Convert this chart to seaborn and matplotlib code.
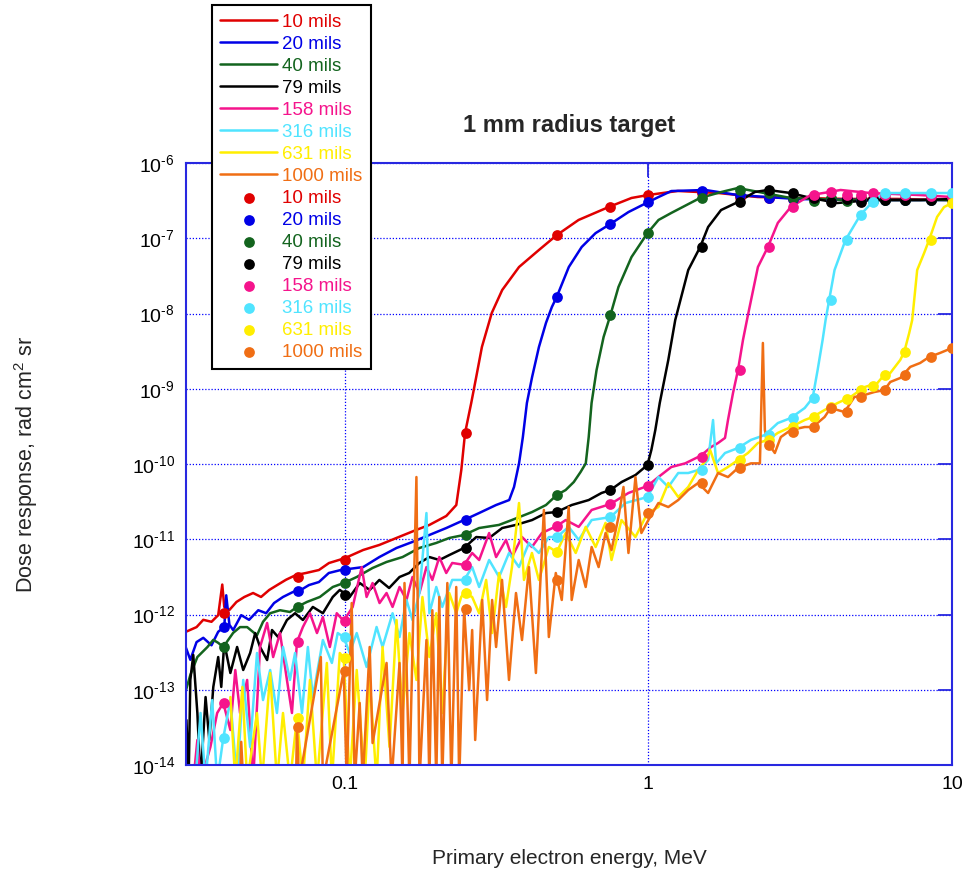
import numpy as np
import pandas as pd
import matplotlib
matplotlib.use("Agg")
import matplotlib.pyplot as plt
import matplotlib.ticker as mticker
import seaborn as sns

nan = np.nan

# ---------------- Monte Carlo dose response curves ----------------
# energy in MeV, dose response in rad cm^2 sr
red_e = [0.030, 0.0325, 0.0342, 0.0364, 0.0383, 0.0395, 0.0401, 0.0417, 0.0440, 0.0467,
         0.0499, 0.0530, 0.0564, 0.0603, 0.0641, 0.0691, 0.0745, 0.0822, 0.0887, 0.100,
         0.115, 0.130, 0.148, 0.172, 0.190, 0.216, 0.233, 0.242, 0.249, 0.261,
         0.271, 0.283, 0.305, 0.330, 0.375, 0.436, 0.499, 0.589, 0.740, 0.880,
         1.0, 1.25, 1.70, 2.29, 3.10, 4.53, 6.60, 10.0]
red_d = [5.9e-13, 6.8e-13, 8.5e-13, 8.0e-13, 9.8e-13, 2.5e-12, 1.26e-12, 1.15e-12, 1.47e-12, 1.71e-12,
         1.93e-12, 1.71e-12, 2.12e-12, 2.5e-12, 2.9e-12, 3.35e-12, 3.56e-12, 3.9e-12, 4.83e-12, 5.6e-12,
         7.2e-12, 8.4e-12, 1.04e-11, 1.33e-11, 1.55e-11, 2.04e-11, 2.85e-11, 8.3e-11, 2.58e-10, 6.5e-10,
         1.43e-9, 3.6e-9, 1.02e-8, 2.05e-8, 4.15e-8, 6.98e-8, 1.10e-7, 1.75e-7, 2.6e-7, 3.43e-7,
         3.76e-7, 4.25e-7, 3.99e-7, 3.53e-7, 3.43e-7, 3.33e-7, 3.33e-7, 3.22e-7]

blue_e = [0.030, 0.0310, 0.0325, 0.0342, 0.0364, 0.0383, 0.0401, 0.0407, 0.0417, 0.0429,
          0.0456, 0.0484, 0.0519, 0.0551, 0.0585, 0.0626, 0.0675, 0.0717, 0.0762, 0.0822,
          0.0886, 0.0970, 0.115, 0.130, 0.148, 0.167, 0.190, 0.216, 0.247, 0.277,
          0.315, 0.348, 0.361, 0.375, 0.386, 0.398, 0.414, 0.436, 0.460, 0.481,
          0.499, 0.547, 0.603, 0.670, 0.750, 0.860, 1.0, 1.08, 1.19, 1.54,
          1.97, 3.10, 5.27, 10.0]
blue_d = [3.6e-13, 2.5e-13, 4.3e-13, 4.9e-13, 3.9e-13, 5.9e-13, 6.8e-13, 1.8e-12, 7.3e-13, 6.2e-13,
          9.8e-13, 8.5e-13, 1.14e-12, 1.04e-12, 1.42e-12, 1.71e-12, 1.99e-12, 2.12e-12, 2.46e-12, 2.7e-12,
          3.56e-12, 3.9e-12, 4.27e-12, 5.8e-12, 7.65e-12, 9.2e-12, 1.14e-11, 1.41e-11, 1.8e-11, 2.23e-11,
          2.85e-11, 3.32e-11, 4.95e-11, 1.02e-10, 2.28e-10, 6.46e-10, 1.43e-9, 3.58e-9, 7.5e-9, 1.22e-8,
          1.66e-8, 4.15e-8, 7.65e-8, 1.17e-7, 1.55e-7, 2.23e-7, 3.03e-7, 3.53e-7, 4.24e-7, 4.38e-7,
          3.75e-7, 3.32e-7, 3.22e-7, 3.22e-7]

green_e = [0.030, 0.0310, 0.0327, 0.0353, 0.0369, 0.0383, 0.0398, 0.0429, 0.0452, 0.0477,
           0.0514, 0.0538, 0.0568, 0.0612, 0.0660, 0.0696, 0.0751, 0.0828, 0.0913, 0.0992,
           0.1095, 0.1235, 0.1373, 0.155, 0.176, 0.200, 0.221, 0.247, 0.277, 0.322,
           0.355, 0.414, 0.460, 0.499, 0.534, 0.568, 0.598, 0.622, 0.636, 0.650,
           0.675, 0.712, 0.750, 0.797, 0.880, 0.993, 1.08, 1.19, 1.48, 1.74,
           1.97, 2.94, 4.52, 10.0]
green_d = [9.9e-14, 1.57e-13, 2.72e-13, 3.7e-13, 4.6e-13, 4.2e-13, 3.7e-13, 5.7e-13, 6.8e-13, 6.8e-13,
           5.3e-13, 8.0e-13, 1.04e-12, 1.14e-12, 1.08e-12, 1.26e-12, 1.47e-12, 1.71e-12, 2.32e-12, 2.62e-12,
           3.15e-12, 4.15e-12, 4.99e-12, 5.8e-12, 7.65e-12, 8.92e-12, 1.04e-11, 1.14e-11, 1.41e-11, 1.55e-11,
           1.80e-11, 2.30e-11, 2.85e-11, 3.87e-11, 4.51e-11, 5.76e-11, 7.83e-11, 1.02e-10, 2.28e-10, 6.46e-10,
           1.77e-9, 4.87e-9, 9.55e-9, 2.25e-8, 5.63e-8, 1.17e-7, 1.75e-7, 2.17e-7, 3.43e-7, 4.12e-7,
           4.65e-7, 3.43e-7, 3.22e-7, 3.22e-7]

black_e = [0.0301, 0.0306, 0.0310, 0.0317, 0.0327, 0.0335, 0.0348, 0.0358, 0.0369, 0.0383,
           0.0392, 0.0401, 0.0420, 0.0442, 0.0463, 0.0488, 0.0507, 0.0526, 0.0555, 0.0576,
           0.0603, 0.0645, 0.0686, 0.0728, 0.0785, 0.0847, 0.0913, 0.0963, 0.1038, 0.112,
           0.1208, 0.130, 0.140, 0.1515, 0.163, 0.176, 0.190, 0.205, 0.221, 0.247,
           0.271, 0.299, 0.330, 0.366, 0.414, 0.460, 0.499, 0.559, 0.636, 0.701,
           0.750, 0.816, 0.907, 0.993, 1.023, 1.054, 1.09, 1.163, 1.226, 1.353,
           1.481, 1.573, 1.735, 1.973, 2.243, 2.475, 2.944, 3.423, 4.198, 5.385,
           7.855, 10.0]
black_d = [3.96e-14, 6e-15, 1.35e-13, 2.9e-13, 4.91e-14, 6e-15, 8.0e-14, 2.15e-14, 1.09e-13, 2.72e-13,
           1.09e-13, 4.18e-13, 1.67e-13, 3.7e-13, 1.83e-13, 3.08e-13, 5.67e-13, 3.7e-13, 2.48e-13, 6.22e-13,
           5.02e-13, 8.45e-13, 1.04e-12, 8.45e-13, 1.26e-12, 1.04e-12, 1.71e-12, 2.12e-12, 1.71e-12, 2.62e-12,
           2.12e-12, 2.88e-12, 2.25e-12, 3.15e-12, 3.56e-12, 4.84e-12, 5.8e-12, 5.3e-12, 6.17e-12, 7.65e-12,
           1.07e-11, 1.04e-11, 1.41e-11, 1.55e-11, 1.80e-11, 2.23e-11, 2.30e-11, 2.85e-11, 3.32e-11, 4.12e-11,
           4.51e-11, 5.76e-11, 7.14e-11, 9.70e-11, 1.54e-10, 2.83e-10, 6.46e-10, 2.41e-9, 8.2e-9, 3.78e-8,
           7.65e-8, 1.41e-7, 2.37e-7, 3.03e-7, 4.12e-7, 4.38e-7, 3.99e-7, 3.43e-7, 2.94e-7, 3.22e-7,
           3.22e-7, 3.32e-7]

pink_e = [0.0317, 0.0327, 0.0335, 0.0361, 0.0380, 0.0398, 0.0420, 0.0436, 0.0452, 0.0477,
          0.0499, 0.0526, 0.0555, 0.0581, 0.0612, 0.0645, 0.0670, 0.0696, 0.0728, 0.0768,
          0.0810, 0.0847, 0.0893, 0.0941, 0.0992, 0.1062, 0.1137, 0.1180, 0.1235, 0.1302,
          0.1373, 0.1437, 0.1515, 0.1597, 0.1671, 0.1762, 0.1858, 0.1943, 0.2048, 0.2159,
          0.2259, 0.2473, 0.2628, 0.2771, 0.2989, 0.3151, 0.3397, 0.3554, 0.3835, 0.4135,
          0.4459, 0.4993, 0.5343, 0.5895, 0.6503, 0.7504, 0.8598, 0.9925, 1.079, 1.190,
          1.322, 1.459, 1.538, 1.609, 1.696, 1.788, 1.829, 1.900, 1.973, 2.049,
          2.128, 2.295, 2.475, 2.669, 2.944, 3.423, 3.952, 4.294, 5.385, 7.855,
          10.0]
pink_d = [6e-15, 2.15e-14, 6e-15, 1.74e-14, 4.91e-14, 6.67e-14, 2.92e-14, 1.83e-13, 4.91e-14, 1.35e-13,
          6e-15, 3.7e-13, 7.71e-13, 2.72e-13, 5.67e-13, 1.35e-13, 4.91e-14, 4.31e-13, 6.82e-13, 1.04e-12,
          5.67e-13, 9.26e-13, 3.7e-13, 1.04e-12, 8.2e-13, 1.26e-12, 4.27e-12, 1.71e-12, 2.62e-12, 1.42e-12,
          1.93e-12, 1.26e-12, 2.32e-12, 1.56e-12, 3.15e-12, 1.93e-12, 4.27e-12, 2.88e-12, 5.8e-12, 3.56e-12,
          4.84e-12, 4.57e-12, 6.57e-12, 5.3e-12, 1.21e-11, 5.8e-12, 9.8e-12, 5.8e-12, 1.07e-11, 7.89e-12,
          1.21e-11, 1.50e-11, 1.80e-11, 1.46e-11, 2.45e-11, 2.94e-11, 4.12e-11, 5.1e-11, 6.71e-11, 9.12e-11,
          1.02e-10, 1.24e-10, 1.44e-10, 1.68e-10, 1.9e-10, 2.22e-10, 3.84e-10, 8.78e-10, 1.77e-9, 4.44e-9,
          9.55e-9, 4.15e-8, 7.65e-8, 1.6e-7, 2.6e-7, 3.75e-7, 4.12e-7, 4.38e-7, 3.99e-7, 3.75e-7,
          3.53e-7]

cyan_e = [0.0322, 0.0335, 0.0348, 0.0366, 0.0380, 0.0398, 0.0420, 0.0442, 0.0463, 0.0488,
          0.0514, 0.0538, 0.0568, 0.0598, 0.0626, 0.0660, 0.0686, 0.0723, 0.0756, 0.0785,
          0.0847, 0.0907, 0.0948, 0.0992, 0.1038, 0.1095, 0.1180, 0.1273, 0.1332, 0.1437,
          0.1515, 0.1597, 0.1671, 0.1762, 0.1858, 0.1900, 0.2002, 0.2095, 0.2259, 0.2473,
          0.2628, 0.2771, 0.2989, 0.3224, 0.3475, 0.3749, 0.4042, 0.4359, 0.4701, 0.4993,
          0.5465, 0.5895, 0.6503, 0.7504, 0.8407, 0.9925, 1.079, 1.163, 1.254, 1.353,
          1.459, 1.573, 1.633, 1.671, 1.788, 1.973, 2.177, 2.419, 2.669, 2.944,
          3.273, 3.475, 3.609, 3.748, 3.834, 4.103, 4.460, 4.992, 5.467, 5.984,
          6.960, 8.472, 10.0]
cyan_d = [6e-15, 4.91e-14, 6e-15, 7.3e-14, 6e-15, 2.28e-14, 7.3e-14, 6e-15, 1.35e-13, 1.74e-14,
          3.08e-13, 7.3e-14, 1.83e-13, 4.91e-14, 3.7e-13, 1.35e-13, 3.08e-13, 4.91e-14, 3.7e-13, 8.0e-14,
          4.58e-13, 2.27e-13, 5.67e-13, 5.02e-13, 3.08e-13, 5.67e-13, 2.01e-13, 6.82e-13, 3.7e-13, 1.04e-12,
          5.02e-13, 1.56e-12, 8.45e-13, 1.93e-12, 2.23e-11, 1.04e-12, 2.32e-12, 1.26e-12, 2.88e-12, 2.88e-12,
          4.27e-12, 2.32e-12, 5.3e-12, 3.15e-12, 6.57e-12, 4.27e-12, 8.92e-12, 6.57e-12, 1.07e-11, 1.07e-11,
          1.46e-11, 9.8e-12, 1.80e-11, 1.97e-11, 3.03e-11, 3.64e-11, 6.71e-11, 4.95e-11, 7.59e-11, 7.59e-11,
          8.32e-11, 1.13e-10, 3.84e-10, 1.02e-10, 1.40e-10, 1.63e-10, 2.09e-10, 2.43e-10, 3.5e-10, 4.08e-10,
          5.55e-10, 7.53e-10, 1.77e-9, 4.44e-9, 8.2e-9, 3.78e-8, 9.5e-8, 2.04e-7, 3.03e-7, 3.99e-7,
          3.99e-7, 3.99e-7, 3.99e-7]

yellow_e = [0.0420, 0.0436, 0.0460, 0.0477, 0.0514, 0.0534, 0.0568, 0.0598, 0.0626, 0.0660,
            0.0696, 0.0728, 0.0768, 0.0810, 0.0873, 0.0907, 0.0963, 0.0992, 0.1038, 0.1095,
            0.1163, 0.1208, 0.1273, 0.1332, 0.1404, 0.1481, 0.1550, 0.1633, 0.1722, 0.1802,
            0.1900, 0.2002, 0.2095, 0.2209, 0.2329, 0.2418, 0.2473, 0.2628, 0.2771, 0.2922,
            0.3057, 0.3224, 0.3397, 0.3554, 0.3749, 0.3893, 0.4135, 0.4359, 0.4701, 0.4993,
            0.5343, 0.5763, 0.6216, 0.6703, 0.7227, 0.7561, 0.8155, 0.9066, 0.9925, 1.079,
            1.163, 1.254, 1.353, 1.459, 1.550, 1.597, 1.696, 1.829, 1.973, 2.128,
            2.295, 2.475, 2.669, 2.944, 3.273, 3.475, 3.805, 4.198, 4.631, 5.146,
            5.677, 5.984, 6.262, 6.753, 6.960, 7.228, 7.395, 7.679, 8.096, 8.407,
            8.929, 9.415, 10.0]
yellow_d = [8.0e-14, 6e-15, 1.09e-13, 6e-15, 4.91e-14, 6e-15, 1.67e-13, 6e-15, 4.91e-14, 6e-15,
            4.21e-14, 6e-15, 1.35e-13, 6e-15, 2.27e-13, 6e-15, 3.08e-13, 2.64e-13, 6e-15, 1.83e-13,
            6e-15, 1.35e-13, 6e-15, 3.7e-13, 1.74e-14, 8.45e-13, 4.91e-14, 5.67e-13, 1.35e-13, 1.71e-12,
            2.72e-13, 1.04e-12, 4.91e-14, 1.93e-12, 1.04e-12, 1.71e-12, 1.93e-12, 1.71e-12, 1.04e-12, 2.88e-12,
            5.67e-13, 3.56e-12, 1.26e-12, 4.27e-12, 3.03e-11, 2.88e-12, 6.57e-12, 2.88e-12, 7.89e-12, 6.77e-12,
            1.21e-11, 6.57e-12, 1.46e-11, 7.89e-12, 1.65e-11, 5.3e-12, 1.80e-11, 1.07e-11, 2.23e-11, 2.68e-11,
            5.59e-11, 3.64e-11, 4.95e-11, 8.32e-11, 1.13e-10, 1.54e-10, 7.59e-11, 9.12e-11, 1.13e-10, 1.40e-10,
            1.9e-10, 2.09e-10, 2.59e-10, 3.1e-10, 3.84e-10, 4.21e-10, 5.22e-10, 6.46e-10, 7.77e-10, 1.05e-9,
            1.19e-9, 1.53e-9, 1.62e-9, 2.41e-9, 3.08e-9, 5.5e-9, 8.2e-9, 3.78e-8, 6.37e-8, 9.5e-8,
            1.92e-7, 2.6e-7, 2.94e-7]

orange_e = [0.0452, 0.0456, 0.0463, 0.0691, 0.0696, 0.0707, 0.0834, 0.0847, 0.0992, 0.1015,
            0.1054, 0.1078, 0.1120, 0.1146, 0.1208, 0.1235, 0.1373, 0.1426, 0.1515, 0.1550,
            0.1573, 0.1633, 0.1722, 0.1762, 0.1858, 0.1900, 0.1943, 0.2002, 0.2048, 0.2095,
            0.2177, 0.2244, 0.2329, 0.2382, 0.2473, 0.2569, 0.2628, 0.2689, 0.2835, 0.2943,
            0.3057, 0.3151, 0.3296, 0.3475, 0.3664, 0.3835, 0.4042, 0.4261, 0.4527, 0.4701,
            0.4955, 0.5185, 0.5465, 0.5590, 0.5895, 0.6216, 0.6503, 0.6857, 0.7227, 0.7561,
            0.7973, 0.8279, 0.8598, 0.9066, 0.9484, 1.0, 1.079, 1.163, 1.254, 1.353,
            1.459, 1.573, 1.696, 1.829, 1.973, 2.177, 2.330, 2.383, 2.419, 2.475,
            2.609, 2.730, 2.944, 3.273, 3.475, 3.805, 3.981, 4.426, 4.772, 5.146,
            5.550, 5.984, 6.262, 6.753, 7.284, 7.855, 8.407, 9.134, 10.0]
orange_d = [6e-15, 2.03e-14, 6e-15, 6e-15, 3.19e-14, 6e-15, 2.72e-13, 6e-15, 1.77e-13, 6e-15,
            1.42e-12, 6e-15, 6.67e-14, 6e-15, 3.7e-13, 1.96e-14, 2.27e-13, 6e-15, 2.27e-13, 6e-15,
            2.62e-12, 6e-15, 6.71e-11, 6e-15, 4.58e-13, 6e-15, 1.14e-12, 6e-15, 1.71e-12, 6e-15,
            2.62e-12, 6e-15, 2.32e-12, 6e-15, 1.18e-12, 9.9e-14, 6.22e-13, 2.15e-14, 1.56e-12, 7.3e-14,
            1.56e-12, 3.7e-13, 2.88e-12, 1.35e-13, 1.93e-12, 4.58e-13, 4.27e-12, 1.67e-13, 2.45e-11, 5.02e-13,
            3.56e-12, 1.56e-12, 2.68e-11, 1.56e-12, 5.3e-12, 2.32e-12, 7.89e-12, 4.27e-12, 1.21e-11, 7.19e-12,
            1.98e-11, 4.95e-11, 6.57e-12, 6.71e-11, 1.21e-11, 1.80e-11, 3.03e-11, 2.68e-11, 3.32e-11, 4.51e-11,
            5.59e-11, 4.12e-11, 7.59e-11, 6.71e-11, 8.85e-11, 1.02e-10, 1.02e-10, 4.06e-9, 2.83e-10, 1.9e-10,
            1.40e-10, 2.28e-10, 2.83e-10, 3.1e-10, 3.1e-10, 4.21e-10, 5.55e-10, 4.91e-10, 7.77e-10, 8.26e-10,
            9.05e-10, 9.6e-10, 1.23e-9, 1.39e-9, 1.95e-9, 2.2e-9, 2.64e-9, 2.99e-9, 3.48e-9]

# ---------------- deterministic points (dots) ----------------
mark_e = [0.04, 0.07, 0.1, 0.25, 0.5, 0.75, 1.0, 1.5, 2.0, 2.5,
          3.0, 3.5, 4.0, 4.5, 5.0, 5.5, 6.0, 7.0, 8.5, 10.0]
red_m = [1.04e-12, 3.15e-12, 5.3e-12, 2.59e-10, 1.10e-7, 2.6e-7, 3.75e-7, 3.99e-7, 3.53e-7, 3.4e-7,
         3.3e-7, 3.3e-7, 3.3e-7, 3.3e-7, 3.3e-7, 3.3e-7, 3.3e-7, 3.3e-7, 3.3e-7, 3.2e-7]
blue_m = [6.82e-13, 2.05e-12, 3.9e-12, 1.80e-11, 1.66e-8, 1.55e-7, 3.03e-7, 4.24e-7, 3.75e-7, 3.4e-7,
          3.3e-7, 3.3e-7, 3.3e-7, 3.3e-7, 3.2e-7, 3.2e-7, 3.2e-7, 3.2e-7, 3.2e-7, 3.2e-7]
green_m = [3.7e-13, 1.26e-12, 2.62e-12, 1.14e-11, 3.87e-11, 9.55e-9, 1.17e-7, 3.43e-7, 4.38e-7, 3.99e-7,
           3.43e-7, 3.1e-7, 3.4e-7, 3.1e-7, 3.4e-7, 3.1e-7, 3.2e-7, 3.2e-7, 3.2e-7, 3.2e-7]
black_m = [nan, nan, 1.82e-12, 7.65e-12, 2.30e-11, 4.51e-11, 9.7e-11, 7.65e-8, 3.03e-7, 4.38e-7,
           3.99e-7, 3.43e-7, 3.0e-7, 3.3e-7, 3.0e-7, 3.3e-7, 3.2e-7, 3.2e-7, 3.2e-7, 3.3e-7]
pink_m = [6.67e-14, 4.31e-13, 8.2e-13, 4.57e-12, 1.50e-11, 2.94e-11, 5.1e-11, 1.24e-10, 1.77e-9, 7.65e-8,
          2.6e-7, 3.75e-7, 4.12e-7, 3.75e-7, 3.75e-7, 3.99e-7, 3.75e-7, 3.75e-7, 3.6e-7, 3.53e-7]
cyan_m = [2.28e-14, nan, 5.02e-13, 2.88e-12, 1.07e-11, 1.98e-11, 3.64e-11, 8.32e-11, 1.63e-10, 2.43e-10,
          4.08e-10, 7.53e-10, 1.52e-8, 9.5e-8, 2.04e-7, 3.03e-7, 3.99e-7, 3.99e-7, 3.99e-7, 3.99e-7]
yellow_m = [nan, 4.21e-14, 2.64e-13, 1.93e-12, 6.77e-12, nan, nan, nan, 1.13e-10, 2.09e-10,
            3.1e-10, 4.21e-10, 5.8e-10, 7.2e-10, 9.6e-10, 1.1e-9, 1.53e-9, 3.08e-9, 9.5e-8, 2.94e-7]
orange_m = [nan, 3.19e-14, 1.77e-13, 1.18e-12, 2.88e-12, 1.46e-11, 2.23e-11, 5.59e-11, 8.85e-11, 1.8e-10,
            2.7e-10, 3.1e-10, 5.55e-10, 4.91e-10, 7.77e-10, nan, 9.6e-10, 1.5e-9, 2.64e-9, 3.48e-9]

labels = ["10 mils", "20 mils", "40 mils", "79 mils", "158 mils", "316 mils", "631 mils", "1000 mils"]
colors = ["#e00000", "#0000e6", "#13641e", "#000000", "#f5148c", "#50e4ff", "#ffee00", "#f06e14"]
curves = [(red_e, red_d), (blue_e, blue_d), (green_e, green_d), (black_e, black_d),
          (pink_e, pink_d), (cyan_e, cyan_d), (yellow_e, yellow_d), (orange_e, orange_d)]
points = [red_m, blue_m, green_m, black_m, pink_m, cyan_m, yellow_m, orange_m]

axis_blue = "#2828e0"

sns.set_style("white")
plt.rcParams["font.family"] = ["Liberation Sans", "DejaVu Sans"]
plt.rcParams["mathtext.fontset"] = "custom"
plt.rcParams["mathtext.rm"] = "Liberation Sans"
plt.rcParams["mathtext.it"] = "Liberation Sans:italic"
plt.rcParams["mathtext.bf"] = "Liberation Sans:bold"


def decade_label(v, pos):
    # "10" with a short-hyphen exponent, e.g. 10^-6
    n = int(round(np.log10(v)))
    sign = "\u2010" if n < 0 else ""
    return f"10$^{{{sign}{abs(n)}}}$"


fig = plt.figure(figsize=(9.69, 8.73), dpi=100)
ax = fig.add_axes([186 / 969, 1 - 765 / 873, 766 / 969, 602 / 873])
ax.set_xscale("log")
ax.set_yscale("log")

for lbl, col, (e, d) in zip(labels, colors, curves):
    sns.lineplot(x=e, y=d, ax=ax, color=col, linewidth=1.8, estimator=None,
                 sort=False, label=lbl)

for lbl, col, m in zip(labels, colors, points):
    df = pd.DataFrame({"energy": mark_e, "dose": m}).dropna()
    sns.scatterplot(data=df, x="energy", y="dose", ax=ax, color=col, s=60,
                    linewidth=0, label=lbl, zorder=4)

ax.set_xlim(0.03, 10)
ax.set_ylim(1e-14, 1e-6)
ax.xaxis.set_major_locator(mticker.FixedLocator([0.1, 1, 10]))
ax.xaxis.set_major_formatter(mticker.FuncFormatter(lambda v, p: f"{v:g}"))
ax.yaxis.set_major_locator(mticker.LogLocator(base=10, numticks=20))
ax.yaxis.set_major_formatter(mticker.FuncFormatter(decade_label))
ax.xaxis.set_minor_locator(mticker.NullLocator())
ax.yaxis.set_minor_locator(mticker.NullLocator())
ax.tick_params(which="major", direction="in", length=10, width=1.3, color=axis_blue,
               top=True, right=True, labelsize=14, pad=8, labelcolor="black")
ax.grid(True, which="major", color="#0000ff", linestyle=(0, (1, 1.5)), linewidth=0.9)
ax.set_axisbelow(True)
for s in ax.spines.values():
    s.set_color(axis_blue)
    s.set_linewidth(1.5)

ax.set_title("1 mm radius target", fontsize=17, fontweight="bold", pad=22)
ax.set_xlabel("Primary electron energy, MeV", fontsize=15, labelpad=40)
ax.set_ylabel("Dose response, rad cm$^{2}$ sr", fontsize=15.5)
ax.yaxis.set_label_coords(-0.19, 0.5)

handles, hlabels = ax.get_legend_handles_labels()
if ax.get_legend() is not None:
    ax.get_legend().remove()
leg = fig.legend(handles, hlabels, loc="upper left",
                 bbox_to_anchor=(212 / 969, 1 - 5 / 873), bbox_transform=fig.transFigure,
                 borderaxespad=0, frameon=True, fancybox=False, edgecolor="black",
                 framealpha=1, fontsize=13.5, handlelength=3.0, handletextpad=0.3,
                 labelspacing=0.26, borderpad=0.45, scatterpoints=1,
                 labelcolor=colors + colors)
leg.get_frame().set_linewidth(1.5)

fig.savefig("out.png", dpi=100)
